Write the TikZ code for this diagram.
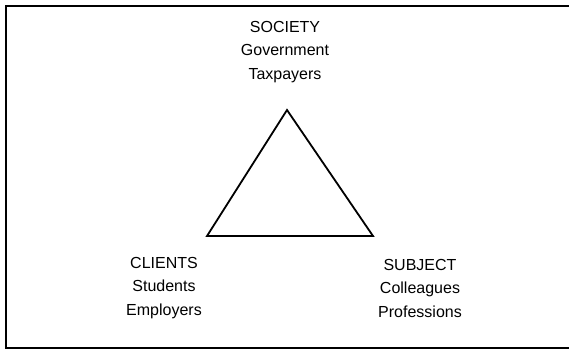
\documentclass[tikz,border=0pt]{standalone}
\usepackage{fontspec}
\setmainfont{Liberation Sans}
\usetikzlibrary{positioning}

\begin{document}
\begin{tikzpicture}[
    x=1pt, y=-1pt,
    group/.style={align=center, inner sep=0pt, font=\fontsize{16}{23.5}\selectfont},
    edge/.style={line width=1.8pt, line join=miter}
  ]
  \useasboundingbox (0,0) rectangle (569,350);
  % open frame, the right side runs off the page
  \draw[line width=2pt] (575,6) -- (6,6) -- (6,348) -- (575,348);

  % corners of the triangle
  \coordinate (top) at (287,110);
  \coordinate (left) at (207,236);
  \coordinate (right) at (373,236);
  \draw[edge] (top) -- (left) -- (right) -- cycle;

  \node[group] (society) at (285,52) {SOCIETY\\Government\\Taxpayers};
  \node[group] (clients) at (164,288) {CLIENTS\\Students\\Employers};
  \node[group] (subject) at (420,288) {SUBJECT\\Colleagues\\Professions};
\end{tikzpicture}
\end{document}
